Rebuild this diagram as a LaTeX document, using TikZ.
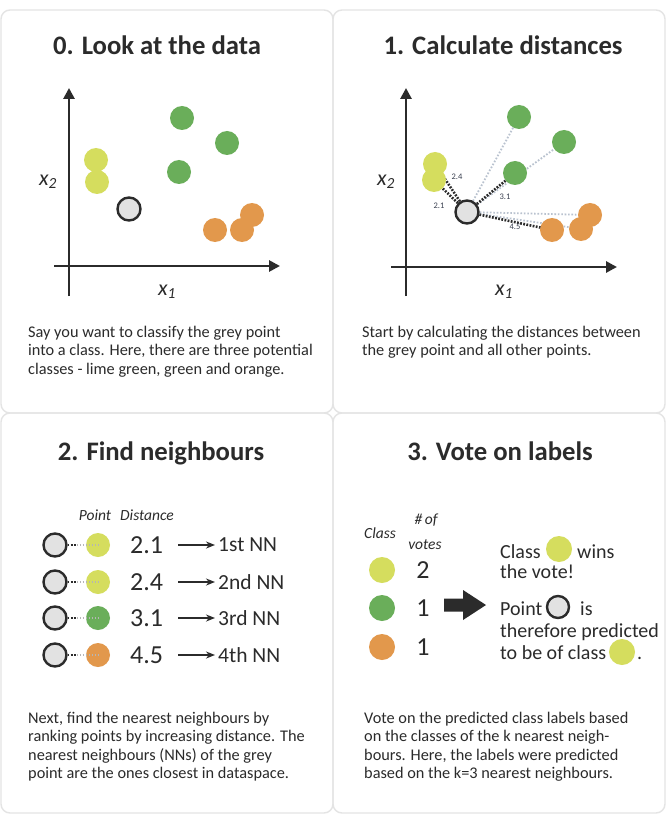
\documentclass[tikz,border=0pt]{standalone}
\usepackage{fontspec}
\setmainfont{Carlito}
\usetikzlibrary{arrows.meta,calc}
\pgfdeclarelayer{back}
\pgfdeclarelayer{links}
\pgfsetlayers{back,links,main}

\definecolor{ink}{HTML}{2B2B2B}
\definecolor{panelline}{HTML}{E4E4E4}
\definecolor{limept}{HTML}{D5DD5E}
\definecolor{greenpt}{HTML}{6AAE5A}
\definecolor{orangept}{HTML}{E2984C}
\definecolor{querygrey}{HTML}{E2E2E2}
\definecolor{farline}{HTML}{B9C2CF}
\definecolor{distink}{HTML}{3A4050}

\tikzset{
  panel/.style={draw=panelline, line width=1.4pt, rounded corners=9pt},
  dot/.style={circle, inner sep=0pt, minimum size=24pt},
  limedot/.style={dot, fill=limept},
  greendot/.style={dot, fill=greenpt},
  orangedot/.style={dot, fill=orangept},
  query/.style={circle, inner sep=0pt, minimum size=23pt, fill=querygrey, draw=ink, line width=2.4pt},
  axis/.style={draw=ink, line width=2.8pt, -{Triangle[length=11pt,width=11pt]}},
  title/.style={font=\bfseries\fontsize{26.7}{30}\selectfont, text=ink, anchor=base, inner sep=0pt},
  body/.style={font=\fontsize{16.3}{18.4}\selectfont, text=ink, align=left, anchor=north west, inner sep=0pt},
  axlabel/.style={font=\itshape\fontsize{22}{24}\selectfont, text=ink, inner sep=0pt},
  near/.style={draw=ink, line width=2.6pt, dash pattern=on 1.8pt off 1.4pt},
  far/.style={draw=farline, line width=1.8pt, dash pattern=on 1.6pt off 1.8pt},
  dist/.style={font=\fontsize{8.5}{9}\selectfont, text=distink, inner sep=0pt},
  rowlink/.style={draw=ink, line width=2pt, dash pattern=on 1.6pt off 1.6pt},
  rowfaint/.style={draw=ink!35, line width=1.6pt, dash pattern=on 1.4pt off 1.6pt},
  bignum/.style={font=\fontsize{26}{28}\selectfont, text=ink, inner sep=0pt},
  nnlabel/.style={font=\fontsize{21.5}{23}\selectfont, text=ink, anchor=west, inner sep=0pt},
  nnarrow/.style={draw=ink, line width=1.6pt, -{Stealth[length=9pt,width=7pt]}},
  colhead/.style={font=\itshape\fontsize{15.5}{17}\selectfont, text=ink, inner sep=0pt},
  verdict/.style={font=\fontsize{20}{22}\selectfont, text=ink, anchor=base west, inner sep=0pt},
}

\begin{document}
\begin{tikzpicture}[x=1pt,y=-1pt]
\useasboundingbox (0,0) rectangle (669,818);

% panel frames
\begin{pgfonlayer}{back}
  \fill[white] (0,0) rectangle (669,818);
  \draw[panel] (1,10) rectangle (333,413);
  \draw[panel] (333,10) rectangle (665,413);
  \draw[panel] (1,413) rectangle (333,813);
  \draw[panel] (333,413) rectangle (665,813);
\end{pgfonlayer}

% ---------- 0. Look at the data ----------
\node[title] (t0) at (157,55) {0. Look at the data};
\coordinate (a0y0) at (69,296);
\coordinate (a0y1) at (69,88);
\coordinate (a0x0) at (54,266);
\coordinate (a0x1) at (280,266);
\draw[axis] (a0y0) -- (a0y1);
\draw[axis] (a0x0) -- (a0x1);
\node[axlabel] (lx2a) at (48,182) {x\textsubscript{2}};
\node[axlabel] (lx1a) at (167,292) {x\textsubscript{1}};

\node[limedot] (aL1) at (96,160) {};
\node[limedot] (aL2) at (97,182) {};
\node[greendot] (aG1) at (182,118) {};
\node[greendot] (aG2) at (227,143) {};
\node[greendot] (aG3) at (179,172) {};
\node[orangedot] (aO1) at (215,230) {};
\node[orangedot] (aO2) at (242,230) {};
\node[orangedot] (aO3) at (252,215) {};
\node[query] (aQ) at (129,209) {};

\node[body] (p0) at (28,326) {Say you want to classify the grey point\\into a class. Here, there are three potential\\classes - lime green, green and orange.};

% ---------- 1. Calculate distances ----------
\node[title] (t1) at (503,55) {1. Calculate distances};
\coordinate (b0y0) at (406,296);
\coordinate (b0y1) at (406,88);
\coordinate (b0x0) at (391,267);
\coordinate (b0x1) at (617,267);
\draw[axis] (b0y0) -- (b0y1);
\draw[axis] (b0x0) -- (b0x1);
\node[axlabel] (lx2b) at (386,182) {x\textsubscript{2}};
\node[axlabel] (lx1b) at (504,292) {x\textsubscript{1}};

\node[limedot] (bL1) at (435,164) {};
\node[limedot] (bL2) at (434,180) {};
\node[greendot] (bG1) at (519,117) {};
\node[greendot] (bG2) at (564,142) {};
\node[greendot] (bG3) at (515,173) {};
\node[orangedot] (bO1) at (552,230) {};
\node[orangedot] (bO2) at (581,229) {};
\node[orangedot] (bO3) at (590,215) {};
\node[query] (bQ) at (467,212) {};

\begin{pgfonlayer}{links}
  \draw[far] (bQ) -- (bG1.center);
  \draw[far] (bQ) -- (bG2.center);
  \draw[far] (bQ) -- (bO3.center);
  \draw[far] (bQ) -- (bO2.center);
  \draw[near] (bQ) -- (bL1.center);
  \draw[near] (bQ) -- (bL2.center);
  \draw[near] (bQ) -- (bG3.center);
  \draw[near] (bQ) -- (bO1.center);
\end{pgfonlayer}
\node[dist] (d24) at (457,177) {2.4};
\node[dist] (d21) at (439,206) {2.1};
\node[dist] (d31) at (505,197) {3.1};
\node[dist] (d45) at (515,227) {4.5};

\node[body] (p1) at (362,326) {Start by calculating the distances between\\the grey point and all other points.};

% ---------- 2. Find neighbours ----------
\node[title] (t2) at (161,460) {2. Find neighbours};
\node[colhead] (hp) at (95,515) {Point};
\node[colhead] (hd) at (147,515) {Distance};

\foreach \i/\y/\sty/\d/\rank in {1/545/limedot/2.1/1st NN, 2/582/limedot/2.4/2nd NN, 3/618/greendot/3.1/3rd NN, 4/655/orangedot/4.5/4th NN}{
  \node[query] (q\i) at (55,\y) {};
  \node[\sty] (n\i) at (98,\y) {};
  \begin{pgfonlayer}{links}
    \draw[rowlink] (q\i) -- ($(q\i.east)!0.5!(n\i.west)$);
  \end{pgfonlayer}
  \draw[rowfaint] ($(q\i.east)!0.5!(n\i.west)$) -- (n\i.center);
  \node[bignum, anchor=west] (v\i) at (130,\y) {\d};
  \coordinate (s\i) at (178,\y);
  \node[nnlabel] (r\i) at (218,\y) {\rank};
  \draw[nnarrow, shorten >=3pt] (s\i) -- (r\i.west);
}

\node[body] (p2) at (28,712) {Next, find the nearest neighbours by\\ranking points by increasing distance. The\\nearest neighbours (NNs) of the grey\\point are the ones closest in dataspace.};

% ---------- 3. Vote on labels ----------
\node[title] (t3) at (500,460) {3. Vote on labels};
\node[colhead] (hc) at (380,533) {Class};
\node[colhead] (hv1) at (426,520) {\#\,of};
\node[colhead] (hv2) at (425,545) {votes};

\node[limedot, minimum size=26pt] (c1) at (382,570) {};
\node[greendot, minimum size=26pt] (c2) at (382,608) {};
\node[orangedot, minimum size=26pt] (c3) at (382,647) {};
\node[bignum] (k1) at (423,570) {2};
\node[bignum] (k2) at (423,608) {1};
\node[bignum] (k3) at (423,647) {1};

\fill[ink] (444,598.5) -- (463,598.5) -- (463,590) -- (486,605) -- (463,620) -- (463,611.5) -- (444,611.5) -- cycle;

\node[verdict] (w1) at (500,558) {Class};
\node[limedot, minimum size=26pt] (w1c) at (559,549) {};
\node[verdict] (w1b) at (577,558) {wins};
\node[verdict] (w2) at (500,578) {the vote!};
\node[verdict] (w3) at (500,615) {Point};
\node[query, minimum size=22pt] (w3c) at (558,607) {};
\node[verdict] (w3b) at (580,615) {is};
\node[verdict] (w4) at (500,637) {therefore predicted};
\node[verdict] (w5) at (500,659) {to be of class};
\node[limedot, minimum size=26pt] (w5c) at (622,652) {};
\node[verdict] (w5b) at (637,659) {.};

\node[body] (p3) at (364,712) {Vote on the predicted class labels based\\on the classes of the k nearest neigh-\\bours. Here, the labels were predicted\\based on the k=3 nearest neighbours.};
\end{tikzpicture}
\end{document}
